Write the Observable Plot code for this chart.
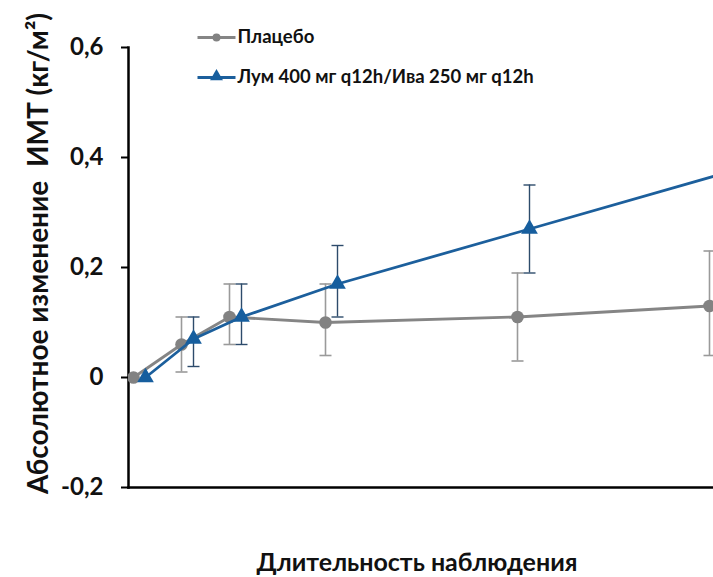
<!DOCTYPE html>
<html>
<head>
<meta charset="utf-8">
<script src="https://cdn.jsdelivr.net/npm/d3@7"></script>
<script src="https://cdn.jsdelivr.net/npm/@observablehq/plot@0.6"></script>
<style>
  html, body { margin: 0; padding: 0; background: #fff; overflow: hidden; }
  svg { overflow: hidden; }
</style>
</head>
<body>
<div id="chart"></div>
<script>
const weeks = [0, 2, 4, 8, 16, 24];
const placeboMean = [0, 0.06, 0.11, 0.10, 0.11, 0.13];
const placeboLow  = [null, 0.01, 0.06, 0.04, 0.03, 0.04];
const placeboHigh = [null, 0.11, 0.17, 0.17, 0.19, 0.23];
const lumMean = [0, 0.07, 0.11, 0.17, 0.27, 0.37];
const lumLow  = [null, 0.02, 0.06, 0.11, 0.19, 0.09];
const lumHigh = [null, 0.11, 0.17, 0.24, 0.35, 0.65];
const seriesNames = ["Плацебо", "Лум 400 мг q12h/Ива 250 мг q12h"];
const yTicks = [-0.2, 0, 0.2, 0.4, 0.6];
const yTitle = "Абсолютное изменение  ИМТ (кг/м²)";
const xTitle = "Длительность наблюдения";

const toRows = (mean, lo, hi) => weeks.map((w, i) => ({week: w, mean: mean[i], lo: lo[i], hi: hi[i]}));
const placebo = toRows(placeboMean, placeboLow, placeboHigh);
const lum = toRows(lumMean, lumLow, lumHigh);
const placeboErr = placebo.filter(d => d.lo != null);
const lumErr = lum.filter(d => d.lo != null);

const GRAY_LINE = "#858585", GRAY_DOT = "#828282", GRAY_ERR = "#9a9a9a";
const BLUE_LINE = "#1c5f9c", BLUE_DOT = "#165e9e", BLUE_ERR = "#2d4b6b";
const FONT = "Lato, 'Open Sans', sans-serif";

const cap = {draw(ctx) { ctx.moveTo(-6, 0); ctx.lineTo(6, 0); }};
const legendLine = {draw(ctx) { ctx.moveTo(-19, 0); ctx.lineTo(19, 0); }};
const LUM_DX = 12;

const fmt = d => d === 0 ? "0" : d.toFixed(1).replace(".", ",");

const chart = Plot.plot({
  width: 713,
  height: 577,
  marginTop: 47,
  marginBottom: 90,
  marginLeft: 128,
  marginRight: 0,
  style: {fontFamily: FONT, background: "#fff"},
  x: {domain: [-5 / 24, 580 / 24], axis: null},
  y: {domain: [-0.2, 0.6], axis: null},
  marks: [
    // axes
    Plot.axisY({ticks: yTicks, tickFormat: fmt, tickSize: 7, tickPadding: 18, fontSize: 24, fontWeight: "bold", stroke: "#000", strokeWidth: 2, fill: "#111"}),
    Plot.frame({anchor: "left", stroke: "#000", strokeWidth: 2.5}),
    Plot.frame({anchor: "bottom", stroke: "#000", strokeWidth: 2.5}),

    // placebo
    Plot.ruleX(placeboErr, {x: "week", y1: "lo", y2: "hi", stroke: GRAY_ERR, strokeWidth: 1.6}),
    Plot.dot(placeboErr, {x: "week", y: "lo", symbol: cap, fill: "none", stroke: GRAY_ERR, strokeWidth: 1.6}),
    Plot.dot(placeboErr, {x: "week", y: "hi", symbol: cap, fill: "none", stroke: GRAY_ERR, strokeWidth: 1.6}),
    Plot.line(placebo, {x: "week", y: "mean", stroke: GRAY_LINE, strokeWidth: 2.8, clip: true}),
    Plot.dot(placebo, {x: "week", y: "mean", r: 6.3, fill: GRAY_DOT, stroke: "none", clip: true}),

    // Lum/Iva
    Plot.ruleX(lumErr, {x: "week", y1: "lo", y2: "hi", dx: LUM_DX, stroke: BLUE_ERR, strokeWidth: 1.4}),
    Plot.dot(lumErr, {x: "week", y: "lo", dx: LUM_DX, symbol: cap, fill: "none", stroke: BLUE_ERR, strokeWidth: 1.4}),
    Plot.dot(lumErr, {x: "week", y: "hi", dx: LUM_DX, symbol: cap, fill: "none", stroke: BLUE_ERR, strokeWidth: 1.4}),
    Plot.line(lum, {x: "week", y: "mean", dx: LUM_DX, stroke: BLUE_LINE, strokeWidth: 2.8}),
    Plot.dot(lum, {x: "week", y: "mean", dx: LUM_DX, symbol: "triangle", r: 6.2, fill: BLUE_DOT, stroke: "none"}),

    // legend
    Plot.dot([seriesNames[0]], {frameAnchor: "top-left", dx: 88, dy: -10, symbol: legendLine, fill: "none", stroke: GRAY_LINE, strokeWidth: 3}),
    Plot.dot([seriesNames[0]], {frameAnchor: "top-left", dx: 88, dy: -10, r: 4, fill: GRAY_DOT}),
    Plot.text([seriesNames[0]], {frameAnchor: "top-left", dx: 109, dy: -10, text: d => d, textAnchor: "start", lineAnchor: "middle", fontSize: 18.5, fontWeight: "bold", fill: "#111"}),
    Plot.dot([seriesNames[1]], {frameAnchor: "top-left", dx: 88, dy: 30, symbol: legendLine, fill: "none", stroke: BLUE_LINE, strokeWidth: 3}),
    Plot.dot([seriesNames[1]], {frameAnchor: "top-left", dx: 88, dy: 29, symbol: "triangle", r: 4.8, fill: BLUE_DOT}),
    Plot.text([seriesNames[1]], {frameAnchor: "top-left", dx: 109, dy: 30, text: d => d, textAnchor: "start", lineAnchor: "middle", fontSize: 18.5, fontWeight: "bold", fill: "#111"}),

    // axis titles
    Plot.text([yTitle], {frameAnchor: "left", dx: -89, dy: -14, rotate: -90, text: d => d, textAnchor: "middle", lineAnchor: "middle", fontSize: 28, fontWeight: "bold", fill: "#111"}),
    Plot.text([xTitle], {frameAnchor: "bottom", dx: -4, dy: 75, text: d => d, textAnchor: "middle", lineAnchor: "middle", fontSize: 25, fontWeight: "bold", fill: "#111"})
  ]
});
document.getElementById("chart").appendChild(chart);
</script>
</body>
</html>
